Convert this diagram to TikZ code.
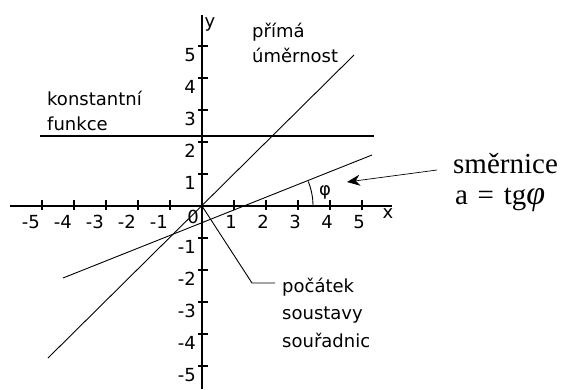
\documentclass[tikz,border=0pt]{standalone}
\usepackage{fontspec}
\setmainfont{Liberation Serif}
\newfontfamily\gfont{DejaVu Sans}
\usetikzlibrary{arrows.meta}
\tikzset{
  axis/.style={line width=1.5pt},
  tickmark/.style={line width=1.2pt},
  graphline/.style={line width=0.9pt},
  constline/.style={line width=1.4pt},
  lbl/.style={inner sep=0pt, font=\gfont\fontsize{18}{20}\selectfont},
  serif/.style={inner sep=0pt, font=\fontsize{29}{31}\selectfont},
}
\begin{document}
\begin{tikzpicture}[x=1pt,y=-1pt]
\useasboundingbox[fill=white] (0,0) rectangle (562,389);
% axes
\coordinate (O) at (202,206);
\coordinate (xl) at (10,206);
\coordinate (xr) at (392,206);
\coordinate (yt) at (202,15);
\coordinate (yb) at (202,389);
\draw[axis] (xl) -- (xr);
\draw[axis] (yb) -- (yt);
% ticks and labels
\foreach \k in {1,...,5}{
  \draw[tickmark] (202+32*\k,200) -- (202+32*\k,210);
  \node[lbl,anchor=base] at (202+32*\k-3,228) {\k};
  \draw[tickmark] (202-32*\k,200) -- (202-32*\k,210);
  \node[lbl,anchor=base east] at (202-32*\k-2,228) {-\k};
  \draw[tickmark] (198,206-32*\k) -- (208,206-32*\k);
  \node[lbl,anchor=base east] at (196,206-32*\k+15) {\k};
  \draw[tickmark] (198,206+32*\k) -- (208,206+32*\k);
  \node[lbl,anchor=base east] at (196,206+32*\k+15) {-\k};
}
\node[lbl,anchor=base east] (zero) at (199,223) {0};
\node[lbl,anchor=base] (xlab) at (388,218) {x};
\node[lbl,anchor=base] (ylab) at (210,27) {y};
% constant function
\coordinate (c1) at (40,136);
\coordinate (c2) at (374,136);
\draw[constline] (c1) -- (c2);
% direct proportion y=x
\coordinate (p1) at (48,358);
\coordinate (p2) at (354,55);
\draw[graphline] (p1) -- (p2);
% shallow line
\coordinate (s1) at (63,278);
\coordinate (s2) at (372,155);
\coordinate (xi) at (247,206);
\draw[graphline] (s1) -- (s2);
% angle marker
\draw[graphline] (313,206) arc[start angle=0,end angle=-21.8,radius=66];
\node[lbl,anchor=base] (phi) at (325,195) {φ};
% origin pointer
\coordinate (k1) at (252,283);
\coordinate (k2) at (275,283);
\draw[graphline] (O) -- (k1) -- (k2);
% texts
\node[lbl,anchor=base west] (t1) at (252,37) {přímá};
\node[lbl,anchor=base west] (t2) at (252,62) {úměrnost};
\node[lbl,anchor=base west] (t3) at (47,105) {konstantní};
\node[lbl,anchor=base west] (t4) at (47,130) {funkce};
\node[lbl,anchor=base west] (t5) at (282,292) {počátek};
\node[lbl,anchor=base west] (t6) at (282,319) {soustavy};
\node[lbl,anchor=base west] (t7) at (282,347) {souřadnic};
\node[serif,anchor=base west] (sm) at (453,173) {směrnice};
\node[serif,anchor=base west] (tg) at (455,204) {a\,\,=\,\,tg{\itshape\fontsize{34}{34}\selectfont φ}};
\coordinate (ar1) at (437,170);
\coordinate (ar2) at (347,182);
\draw[line width=0.7pt,-{Stealth[length=13pt,width=11pt]}] (ar1) -- (ar2);
\end{tikzpicture}
\end{document}
